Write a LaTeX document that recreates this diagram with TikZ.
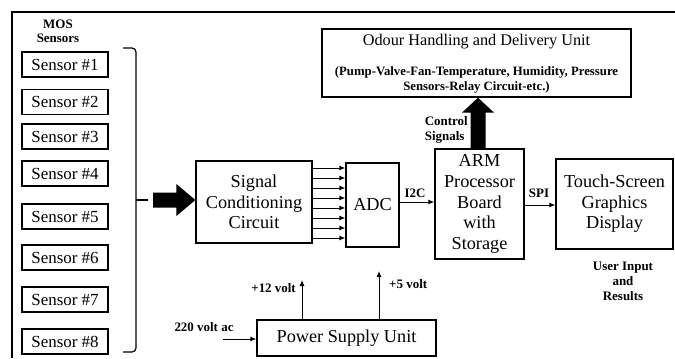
\documentclass[tikz,border=0pt]{standalone}
\usepackage{fontspec}
\setmainfont{Liberation Serif}
\usetikzlibrary{arrows.meta,calc}
\begin{document}
\begin{tikzpicture}[x=1bp,y=-1bp,
  box/.style={draw,line width=1.3bp,inner sep=0pt,align=center},
  sensorbox/.style={box,minimum width=86bp,minimum height=25bp,font=\fontsize{17}{19}\selectfont},
  bigtxt/.style={font=\fontsize{18.3}{20.7}\selectfont},
  lbl/.style={font=\bfseries\fontsize{13}{15}\selectfont,inner sep=0pt,align=center},
  arr/.style={line width=1bp,-{Latex[length=6bp,width=5bp]}},
  thin/.style={line width=1.2bp}]
\useasboundingbox (0,0) rectangle (675,358);
% frame
\draw[line width=1.5bp] (12,358) -- (12,12) -- (675,12);
% sensors
\node[lbl,font=\bfseries\fontsize{13}{14.5}\selectfont] (mos) at (58,31) {MOS\\Sensors};
\foreach \i/\y in {1/64.5,2/102,3/136.5,4/173.5,5/216.5,6/257.5,7/299.5,8/341.5}
  \node[sensorbox] (s\i) at (65,\y) {Sensor \#\i};
% bracket
\coordinate (bt) at (123,48);
\coordinate (bb) at (123,352);
\coordinate (bm) at (136,200);
\draw[thin,rounded corners=4bp] (bt) -- (bt -| bm) -- (bb -| bm) -- (bb);
\draw[thin] (bm) -- ++(12,0);
% boxes
\node[box,bigtxt,minimum width=116bp,minimum height=82bp] (scc) at (254,202) {Signal\\Conditioning\\Circuit};
\node[box,bigtxt,minimum width=53bp,minimum height=84bp] (adc) at (372.5,205) {ADC};
\node[box,bigtxt,minimum width=89bp,minimum height=110bp] (arm) at (479.5,204) {ARM\\Processor\\Board\\with\\Storage};
\node[box,bigtxt,minimum width=117bp,minimum height=90bp] (touch) at (614.5,204) {Touch-Screen\\Graphics\\Display};
\node[box,minimum width=309bp,minimum height=68bp] (odour) at (476.5,63) {};
\node[font=\fontsize{16.3}{19}\selectfont,inner sep=0pt] (otitle) at (476.5,42) {Odour Handling and Delivery Unit};
\node[lbl,font=\bfseries\fontsize{12.8}{14.5}\selectfont] (osub) at (476.5,80) {(Pump-Valve-Fan-Temperature, Humidity, Pressure\\Sensors-Relay Circuit-etc.)};
\node[box,bigtxt,minimum width=179bp,minimum height=36bp] (psu) at (346.5,338) {Power Supply Unit};
% big arrow sensors -> scc
\coordinate (ba) at (153,200);
\fill (ba) ++(0,-7.5) -- ($(scc.west |- ba)+(-19,-7.5)$) -- ($(scc.west |- ba)+(-19,-16)$) -- (scc.west |- ba) -- ($(scc.west |- ba)+(-19,16)$) -- ($(scc.west |- ba)+(-19,7.5)$) -- ($(ba)+(0,7.5)$) -- cycle;
% scc -> adc
\foreach \y in {168,178,...,238}{
  \coordinate (t) at (0,\y);
  \draw[arr] (scc.east |- t) -- (adc.west |- t);
}
% adc -> arm, arm -> touch
\coordinate (ia) at (0,202);
\draw[arr] (adc.east |- ia) -- (arm.west |- ia);
\node[lbl] (i2c) at (415,193) {I2C};
\coordinate (sa) at (0,205);
\draw[arr] (arm.east |- sa) -- (touch.west |- sa);
\node[lbl] (spi) at (539,193) {SPI};
% control arrow
\coordinate (ca) at (478,0);
\fill (arm.north -| ca) ++(-7.5,0) -- ($(odour.south -| ca)+(-7.5,15)$) -- ($(odour.south -| ca)+(-16,15)$) -- (odour.south -| ca) -- ($(odour.south -| ca)+(16,15)$) -- ($(odour.south -| ca)+(7.5,15)$) -- ($(arm.north -| ca)+(7.5,0)$) -- cycle;
\node[lbl,anchor=east,align=left,font=\bfseries\fontsize{13}{15}\selectfont] (ctl) at (468,129.5) {Control\\Signals};
% user input
\node[lbl] (ui) at (623,281) {User Input\\and\\Results};
% power
\coordinate (ac) at (223,339);
\draw[arr] (ac) -- (psu.west |- ac);
\node[lbl] (acl) at (204,327) {220 volt ac};
\coordinate (v12) at (302,280);
\draw[arr] (psu.north -| v12) -- (v12);
\node[lbl,anchor=east] (l12) at (296,288) {+12 volt};
\coordinate (v5) at (379,271);
\draw[arr] (psu.north -| v5) -- (v5);
\node[lbl,anchor=west] (l5) at (389,284) {+5 volt};
\end{tikzpicture}
\end{document}
